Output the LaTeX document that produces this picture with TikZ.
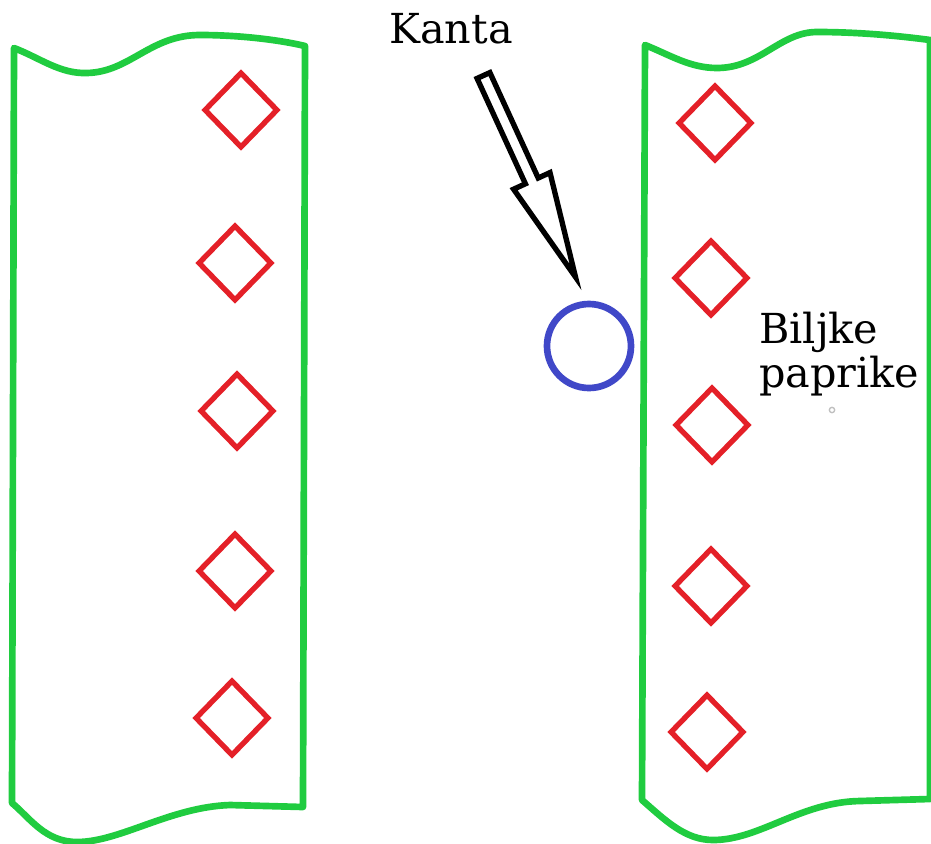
\documentclass[tikz,border=0pt]{standalone}
\usepackage{fontspec}
\setmainfont{DejaVu Serif}
\usepackage{tikz}
\usetikzlibrary{shapes.geometric}
\definecolor{bedgreen}{RGB}{32,204,64}
\definecolor{plantred}{RGB}{228,32,40}
\definecolor{kantablue}{RGB}{64,72,200}
\tikzstyle{bd} = [draw=bedgreen, line width=5pt, line join=round]
\tikzstyle{pl} = [diamond, draw=plantred, line width=4pt, inner sep=0pt, minimum width=55.5pt, minimum height=57pt]
\tikzstyle{lb} = [font=\fontsize{31}{33}\selectfont, inner sep=0pt]

\begin{document}
\begin{tikzpicture}[x=0.75pt, y=-0.75pt]
			\useasboundingbox (0,0) rectangle (931,843);
			% left bed
			\draw [bd] (14,48) .. controls (40,58) and (60,74) .. (87,73) .. controls (130,72) and (150,35) .. (200,35) .. controls (240,35) and (280,40) .. (305,46) -- (303,807) -- (230,805) .. controls (170,807) and (120,842) .. (77,842) .. controls (45,842) and (30,818) .. (12,803) -- cycle;
			% right bed
			\draw [bd] (645,45) .. controls (670,55) and (690,68) .. (717,68) .. controls (760,68) and (780,32) .. (817,32) .. controls (860,32) and (900,36) .. (930,40) -- (930,799) -- (860,801) .. controls (800,802) and (760,840) .. (713,840) .. controls (685,840) and (665,820) .. (642,800) -- cycle;
			\node[pl] (l1) at (241,110) {};
			\node[pl] (l2) at (235,263) {};
			\node[pl] (l3) at (237,411) {};
			\node[pl] (l4) at (235,571) {};
			\node[pl] (l5) at (232,718) {};
			\node[pl] (r1) at (715,123) {};
			\node[pl] (r2) at (711,278) {};
			\node[pl] (r3) at (712,425) {};
			\node[pl] (r4) at (711,586) {};
			\node[pl] (r5) at (707,732) {};
			\node[circle, draw=kantablue, line width=5pt, minimum size=63pt, inner sep=0pt] (kanta) at (589,346) {};
			\node[circle, draw=gray!50, line width=1pt, minimum size=4pt, inner sep=0pt] (dot) at (832,410) {};
			\node[lb] (kt) at (451,29) {Kanta};
			\node[lb, align=left, anchor=north west] (bp) at (759,312) {Biljke\\paprike};
			% hollow arrow
			\draw [line width=4pt, miter limit=20] (489.9,72.6) -- (538.2,178.0) -- (550.0,172.6) -- (575.5,277) -- (513.6,189.2) -- (525.4,183.8) -- (477.1,78.4) -- cycle;
		\end{tikzpicture}
\end{document}
